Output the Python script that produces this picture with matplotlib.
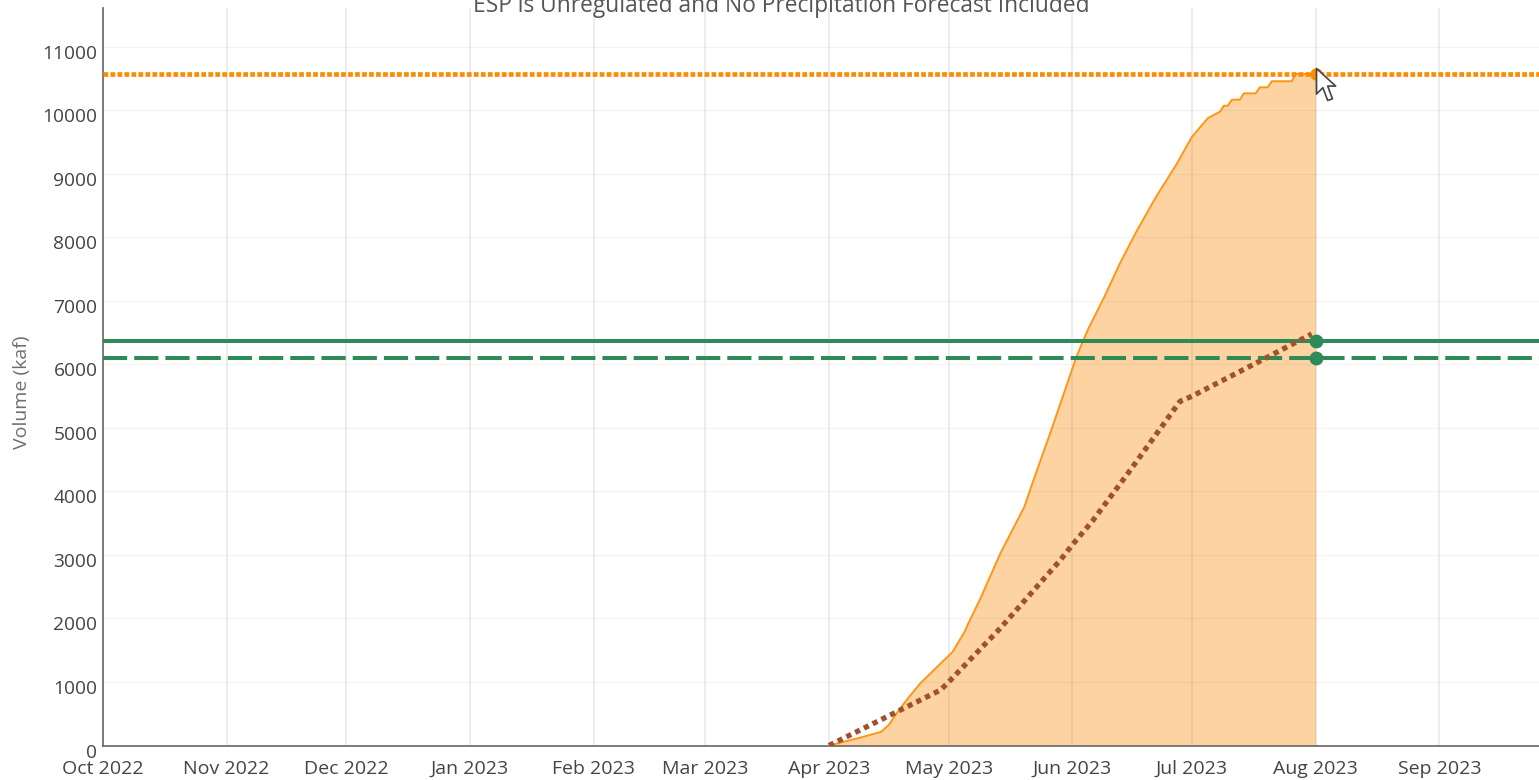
import matplotlib
matplotlib.use('Agg')
import matplotlib.pyplot as plt
import matplotlib.transforms as mtrans
from matplotlib.path import Path
import pandas as pd

plt.rcParams['font.family'] = ['Open Sans', 'DejaVu Sans']

### values
month_ticks = ['2022-10-01', '2022-11-01', '2022-12-01', '2023-01-01', '2023-02-01', '2023-03-01',
               '2023-04-01', '2023-05-01', '2023-06-01', '2023-07-01', '2023-08-01', '2023-09-01']
month_labels = ['Oct 2022', 'Nov 2022', 'Dec 2022', 'Jan 2023', 'Feb 2023', 'Mar 2023',
                'Apr 2023', 'May 2023', 'Jun 2023', 'Jul 2023', 'Aug 2023', 'Sep 2023']
y_ticks = [0, 1000, 2000, 3000, 4000, 5000, 6000, 7000, 8000, 9000, 10000, 11000]

obs_dates = ['2023-04-01', '2023-04-08', '2023-04-14', '2023-04-16', '2023-04-18', '2023-04-21',
             '2023-04-24', '2023-05-02', '2023-05-05', '2023-05-06', '2023-05-09', '2023-05-14',
             '2023-05-20', '2023-05-22', '2023-05-27', '2023-06-02', '2023-06-04', '2023-06-05',
             '2023-06-09', '2023-06-13', '2023-06-17', '2023-06-22', '2023-06-27', '2023-07-01',
             '2023-07-05', '2023-07-08', '2023-07-09', '2023-07-10', '2023-07-11', '2023-07-13',
             '2023-07-14', '2023-07-17', '2023-07-18', '2023-07-20', '2023-07-21', '2023-07-26',
             '2023-07-27', '2023-07-31', '2023-08-01']
obs_values = [0, 110, 213, 323, 510, 760, 985, 1475, 1790, 1930, 2320, 3030,
              3760, 4130, 5015, 6115, 6415, 6560, 7060, 7600, 8085, 8640, 9140, 9585,
              9880, 9980, 10075, 10075, 10170, 10170, 10270, 10270, 10365, 10365, 10460, 10460,
              10575, 10575, 10575]

avg_dates = ['2023-04-01', '2023-04-18', '2023-04-29', '2023-05-01', '2023-05-14', '2023-05-29',
             '2023-06-01', '2023-06-06', '2023-06-15', '2023-06-28', '2023-07-01', '2023-07-19',
             '2023-07-31']
avg_values = [0, 530, 875, 1000, 1850, 2920, 3160, 3530, 4290, 5420, 5500, 6085, 6480]

end_date = '2023-08-01'
peak_level = 10575
median_level = 6370
esp_level = 6100
cursor_level = 10670

obs_x = pd.to_datetime(obs_dates)
avg_x = pd.to_datetime(avg_dates)
end_x = pd.Timestamp(end_date)

fig = plt.figure(figsize=(15.39, 7.8), dpi=100)
ax = fig.add_axes([103 / 1539, 34.5 / 780, 1436 / 1539, 737.5 / 780])

ax.set_xlim(pd.Timestamp('2022-10-01'), pd.Timestamp('2023-09-26'))
ax.set_ylim(0, 11614)

ax.fill_between(obs_x, obs_values, color='#fdd3a1', lw=0, zorder=1)
ax.grid(True, axis='x', color='#6e6e6e', alpha=0.13, lw=1.3, zorder=2)
ax.grid(True, axis='y', color='#6e6e6e', alpha=0.07, lw=1, zorder=2)
ax.set_axisbelow(False)
ax.plot(obs_x, obs_values, color='#ff9416', lw=1.4, zorder=3)

ax.axhline(peak_level, color='#ff8c00', lw=3.4, ls=(0, (1, 0.48)), zorder=4)
ax.axhline(median_level, color='#2e8b57', lw=2.9, zorder=4)
ax.axhline(esp_level, color='#2e8b57', lw=2.9, ls=(0, (6, 1.75)), zorder=4)
ax.plot(avg_x, avg_values, color='#a0522d', lw=3.8, ls=(0, (1, 0.85)), zorder=5)

ax.plot([end_x], [peak_level], 'o', color='#ff8c00', ms=9, mew=0, zorder=6)
ax.plot([end_x, end_x], [median_level, esp_level], 'o', color='#2e8b57', ms=10, mew=0, zorder=6)

# mouse pointer that sits on the peak in the screenshot
cursor = Path([(0, 0), (0, -16), (4, -12), (7, -20), (10, -19), (7, -11), (12, -11), (0, 0)], closed=True)
ax.plot([end_x], [cursor_level], marker=cursor, ms=46, mfc='white', mec='#444444', mew=1.2, clip_on=False, zorder=7)

ax.set_xticks(pd.to_datetime(month_ticks))
ax.set_xticklabels(month_labels, va='baseline')
ax.set_yticks(y_ticks)
ax.tick_params(axis='both', length=0, labelcolor='#444444')
ax.tick_params(axis='x', pad=20.5, labelsize=14)
ax.tick_params(axis='y', pad=4, labelsize=13.8)

# y labels sit a little under their grid lines in the original
for lab in ax.get_yticklabels():
    lab.set_transform(lab.get_transform() + mtrans.ScaledTranslation(0, -5 / 100, fig.dpi_scale_trans))

for s in ['top', 'right']:
    ax.spines[s].set_visible(False)
for s in ['left', 'bottom']:
    ax.spines[s].set_color('#666666')
    ax.spines[s].set_linewidth(1.2)

fig.text(22 / 1539, 1 - 392 / 780, 'Volume (kaf)', rotation=90, ha='center', va='center',
         fontsize=14, color='#6f6f6f')
fig.text(781 / 1539, 1 - 6 / 780, 'ESP is Unregulated and No Precipitation Forecast Included',
         ha='center', va='center', fontsize=16.4, color='#555555')

fig.savefig('out.png', dpi=100)
